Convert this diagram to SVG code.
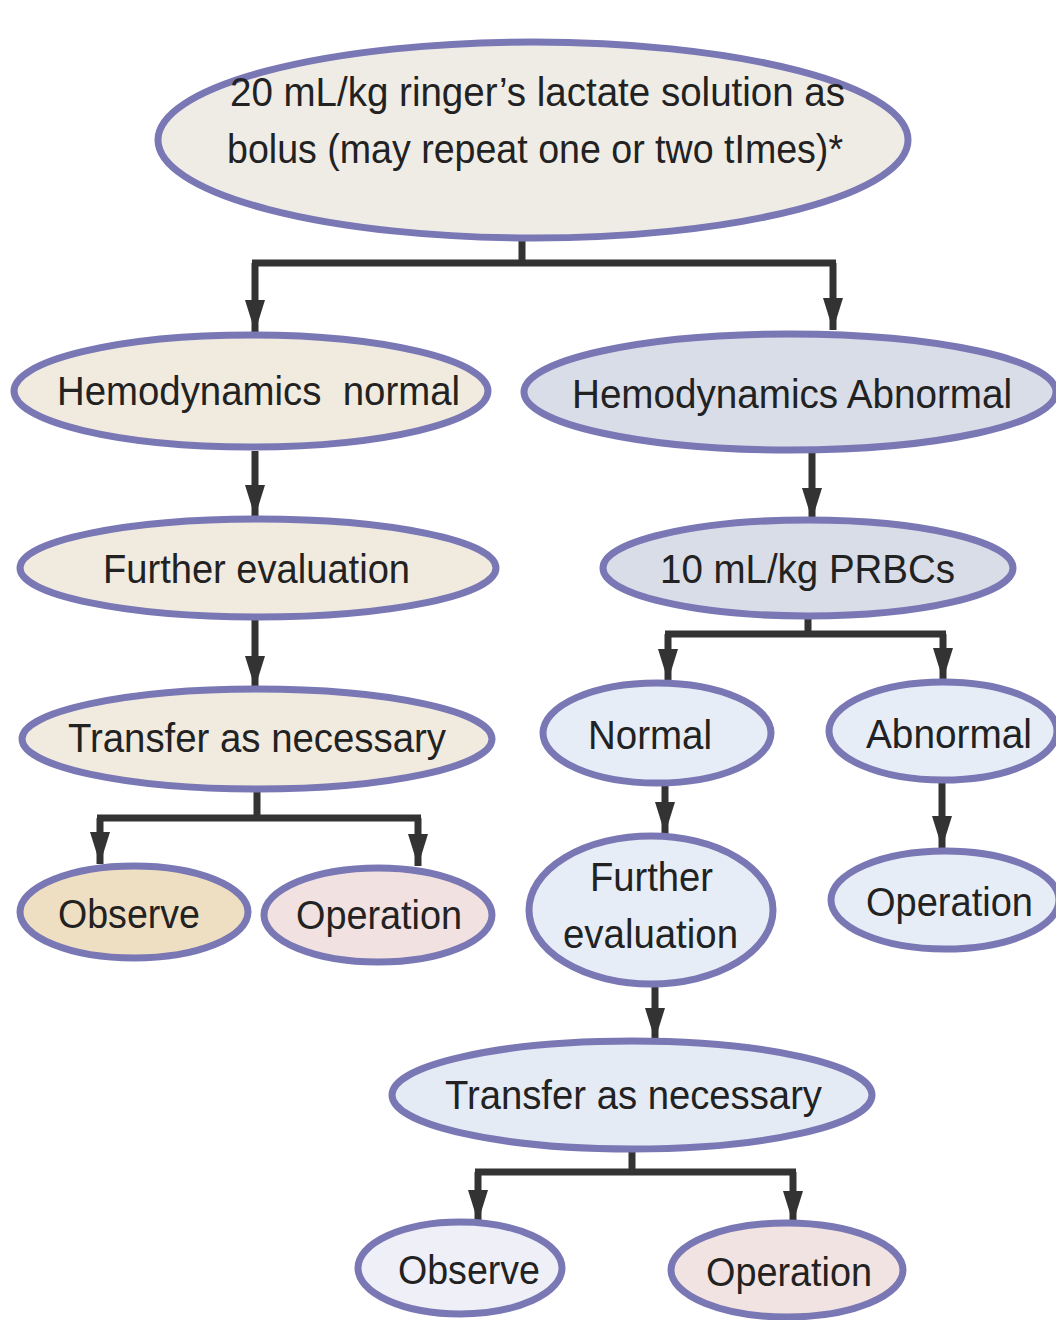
<svg xmlns="http://www.w3.org/2000/svg" width="1056" height="1320" viewBox="0 0 1056 1320">
<style>
.n{stroke:#7a77b5;stroke-width:7}
.t{font-family:"Liberation Sans",Arial,sans-serif;font-size:40px;fill:#222}
.c{stroke:#333;stroke-width:7;fill:none}
.a{stroke:#333;stroke-width:7;fill:none;marker-end:url(#ah)}
</style>
<defs>
<marker id="ah" markerUnits="userSpaceOnUse" viewBox="0 0 32 20" refX="32" refY="10" markerWidth="32" markerHeight="20" orient="auto">
<path d="M0,0 L32,10 L0,20 z" fill="#333"/>
</marker>
</defs>
<rect width="1056" height="1320" fill="#fff"/>
<g id="connectors">
<path class="c" d="M522,240 V263 M252,263 H836"/>
<path class="a" d="M255,263 V332"/>
<path class="a" d="M833,263 V330"/>
<path class="a" d="M255,451 V517"/>
<path class="a" d="M255,620 V688"/>
<path class="c" d="M257,792 V818 M97,818 H421"/>
<path class="a" d="M100,818 V864"/>
<path class="a" d="M418,818 V866"/>
<path class="a" d="M812,453 V520"/>
<path class="c" d="M808,618 V634 M665,634 H946"/>
<path class="a" d="M668,634 V681"/>
<path class="a" d="M943,634 V680"/>
<path class="a" d="M665,786 V834"/>
<path class="a" d="M942,782 V848"/>
<path class="a" d="M655,986 V1040"/>
<path class="c" d="M632,1152 V1172 M475,1172 H796"/>
<path class="a" d="M478,1172 V1222"/>
<path class="a" d="M793,1172 V1223"/>
</g>
<g id="top">
<ellipse class="n" cx="533" cy="140" rx="375" ry="98" fill="#efece6"/>
<text class="t" x="230" y="106" textLength="615" lengthAdjust="spacingAndGlyphs">20 mL/kg ringer’s lactate solution as</text>
<text class="t" x="227" y="163" textLength="616" lengthAdjust="spacingAndGlyphs">bolus (may repeat one or two tImes)*</text>
</g>
<g id="hemo-normal">
<ellipse class="n" cx="251" cy="391" rx="237" ry="56" fill="#f1eadf"/>
<text class="t" x="57" y="405" textLength="403" lengthAdjust="spacingAndGlyphs" style="white-space:pre">Hemodynamics  normal</text>
</g>
<g id="hemo-abnormal">
<ellipse class="n" cx="790" cy="392" rx="266" ry="58" fill="#d8dde7"/>
<text class="t" x="572" y="408" textLength="440" lengthAdjust="spacingAndGlyphs">Hemodynamics Abnormal</text>
</g>
<g id="further-left">
<ellipse class="n" cx="258" cy="568" rx="238" ry="49" fill="#f1eadf"/>
<text class="t" x="103" y="583" textLength="307" lengthAdjust="spacingAndGlyphs">Further evaluation</text>
</g>
<g id="prbcs">
<ellipse class="n" cx="808" cy="568" rx="205" ry="48" fill="#d8dde7"/>
<text class="t" x="660" y="583" textLength="295" lengthAdjust="spacingAndGlyphs">10 mL/kg PRBCs</text>
</g>
<g id="transfer-left">
<ellipse class="n" cx="257" cy="739" rx="235" ry="50" fill="#f1eadf"/>
<text class="t" x="68" y="752" textLength="378" lengthAdjust="spacingAndGlyphs">Transfer as necessary</text>
</g>
<g id="normal">
<ellipse class="n" cx="657" cy="733" rx="114" ry="50" fill="#e7edf6"/>
<text class="t" x="588" y="749" textLength="124" lengthAdjust="spacingAndGlyphs">Normal</text>
</g>
<g id="abnormal">
<ellipse class="n" cx="943" cy="731" rx="114" ry="49" fill="#e7edf6"/>
<text class="t" x="866" y="748" textLength="166" lengthAdjust="spacingAndGlyphs">Abnormal</text>
</g>
<g id="observe-left">
<ellipse class="n" cx="134" cy="912" rx="114" ry="46" fill="#efdfc2"/>
<text class="t" x="58" y="928" textLength="142" lengthAdjust="spacingAndGlyphs">Observe</text>
</g>
<g id="operation-left">
<ellipse class="n" cx="378" cy="915" rx="114" ry="47" fill="#f1e1e1"/>
<text class="t" x="296" y="929" textLength="166" lengthAdjust="spacingAndGlyphs">Operation</text>
</g>
<g id="further-right">
<ellipse class="n" cx="651" cy="910" rx="122" ry="74" fill="#e7edf6"/>
<text class="t" x="590" y="891" textLength="123" lengthAdjust="spacingAndGlyphs">Further</text>
<text class="t" x="563" y="948" textLength="175" lengthAdjust="spacingAndGlyphs">evaluation</text>
</g>
<g id="operation-right">
<ellipse class="n" cx="945" cy="900" rx="114" ry="49" fill="#e7edf6"/>
<text class="t" x="866" y="916" textLength="167" lengthAdjust="spacingAndGlyphs">Operation</text>
</g>
<g id="transfer-right">
<ellipse class="n" cx="632" cy="1095" rx="240" ry="54" fill="#e4ebf4"/>
<text class="t" x="445" y="1109" textLength="377" lengthAdjust="spacingAndGlyphs">Transfer as necessary</text>
</g>
<g id="observe-bottom">
<ellipse class="n" cx="460" cy="1268" rx="102" ry="46" fill="#efeff8"/>
<text class="t" x="398" y="1284" textLength="142" lengthAdjust="spacingAndGlyphs">Observe</text>
</g>
<g id="operation-bottom">
<ellipse class="n" cx="787" cy="1270" rx="116" ry="47" fill="#f1e3e1"/>
<text class="t" x="706" y="1286" textLength="166" lengthAdjust="spacingAndGlyphs">Operation</text>
</g>
</svg>
